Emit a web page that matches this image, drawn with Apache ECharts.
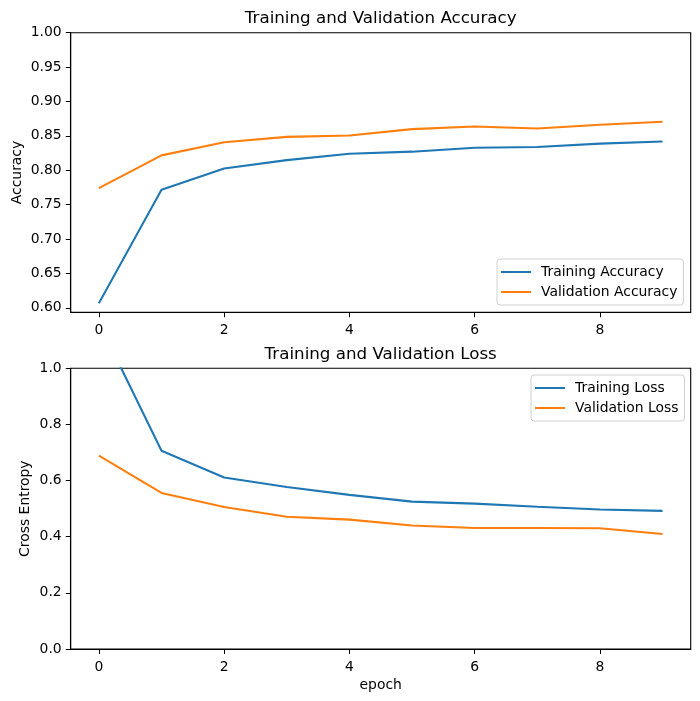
<!DOCTYPE html>
<html>
<head>
<meta charset="utf-8">
<script src="https://cdn.jsdelivr.net/npm/echarts@6/dist/echarts.min.js"></script>
<style>
html,body{margin:0;padding:0;background:#fff;}
#chart{width:700px;height:701px;}
</style>
</head>
<body>
<div id="chart"></div>
<script>
const epochs = [0, 1, 2, 3, 4, 5, 6, 7, 8, 9];
const trainAcc = [0.6066, 0.7716, 0.8025, 0.8147, 0.8240, 0.8270, 0.8328, 0.8338, 0.8387, 0.8417];
const valAcc = [0.7740, 0.8216, 0.8407, 0.8485, 0.8505, 0.8598, 0.8637, 0.8608, 0.8662, 0.8706];
const trainLoss = [1.163, 0.706, 0.611, 0.577, 0.549, 0.525, 0.518, 0.507, 0.497, 0.492];
const valLoss = [0.689, 0.556, 0.506, 0.471, 0.461, 0.440, 0.431, 0.431, 0.430, 0.410];
const xTicks = [0, 2, 4, 6, 8];
const accTicks = [0.60, 0.65, 0.70, 0.75, 0.80, 0.85, 0.90, 0.95, 1.00];

const FONT = 'DejaVu Sans';
const BLUE = '#1f77b4', ORANGE = '#ff7f0e';
const pairs = (ys) => epochs.map((e, i) => [e, ys[i]]);

const xAxisBase = (gridIndex, withName) => ({
  type: 'value', gridIndex, min: -0.45, max: 9.45,
  axisLine: { show: true, onZero: false, lineStyle: { color: '#000', width: 1.1 } },
  splitLine: { show: false },
  axisTick: { show: true, inside: false, length: 4.9, customValues: xTicks, lineStyle: { color: '#000', width: 1 } },
  axisLabel: { customValues: xTicks, color: '#000', fontFamily: FONT, fontSize: 13.9, margin: 11 },
  name: withName ? 'epoch' : '', nameLocation: 'middle', nameGap: 29,
  nameTextStyle: { color: '#000', fontFamily: FONT, fontSize: 13.9 }
});

const chart = echarts.init(document.getElementById('chart'), null, { renderer: 'canvas' });
chart.setOption({
  animation: false,
  backgroundColor: '#fff',
  textStyle: { fontFamily: FONT },
  title: [
    { text: 'Training and Validation Accuracy', left: 380.7, textAlign: 'center', top: 10, padding: 0,
      textStyle: { fontFamily: FONT, fontSize: 16.7, fontWeight: 'normal', color: '#000' } },
    { text: 'Training and Validation Loss', left: 380.7, textAlign: 'center', top: 346, padding: 0,
      textStyle: { fontFamily: FONT, fontSize: 16.7, fontWeight: 'normal', color: '#000' } }
  ],
  grid: [
    { left: 70.7, width: 620, top: 32.7, height: 279.6, show: true, borderColor: '#000', borderWidth: 1.1, backgroundColor: 'transparent', containLabel: false },
    { left: 70.7, width: 620, top: 368.3, height: 280.7, show: true, borderColor: '#000', borderWidth: 1.1, backgroundColor: 'transparent', containLabel: false }
  ],
  xAxis: [xAxisBase(0, false), xAxisBase(1, true)],
  yAxis: [
    { type: 'value', gridIndex: 0, min: 0.5934, max: 1.0,
      axisLine: { show: true, onZero: false, lineStyle: { color: '#000', width: 1.1 } }, splitLine: { show: false },
      axisTick: { show: true, length: 4.9, customValues: accTicks, lineStyle: { color: '#000', width: 1 } },
      axisLabel: { customValues: accTicks, color: '#000', fontFamily: FONT, fontSize: 13.9, margin: 9,
        formatter: (v) => v.toFixed(2) },
      name: 'Accuracy', nameLocation: 'middle', nameGap: 46, nameMoveOverlap: false,
      nameTextStyle: { color: '#000', fontFamily: FONT, fontSize: 13.9 } },
    { type: 'value', gridIndex: 1, min: 0, max: 1.0, interval: 0.2,
      axisLine: { show: true, onZero: false, lineStyle: { color: '#000', width: 1.1 } }, splitLine: { show: false },
      axisTick: { show: true, length: 4.9, lineStyle: { color: '#000', width: 1 } },
      axisLabel: { color: '#000', fontFamily: FONT, fontSize: 13.9, margin: 9,
        formatter: (v) => v.toFixed(1) },
      name: 'Cross Entropy', nameLocation: 'middle', nameGap: 38, nameMoveOverlap: false,
      nameTextStyle: { color: '#000', fontFamily: FONT, fontSize: 13.9 } }
  ],
  legend: [
    { data: ['Training Accuracy', 'Validation Accuracy'], orient: 'vertical', left: 497, top: 259,
      icon: 'rect', itemWidth: 30, itemHeight: 2, itemGap: 6, padding: [6, 6, 6, 4],
      borderColor: '#d0d0d0', borderWidth: 1, borderRadius: 3, backgroundColor: 'rgba(255,255,255,0.8)',
      textStyle: { fontFamily: FONT, fontSize: 13.9, color: '#000', padding: [0, 0, 0, 5] }, selectedMode: false },
    { data: ['Training Loss', 'Validation Loss'], orient: 'vertical', left: 531, top: 375,
      icon: 'rect', itemWidth: 30, itemHeight: 2, itemGap: 6, padding: [6, 6, 6, 4],
      borderColor: '#d0d0d0', borderWidth: 1, borderRadius: 3, backgroundColor: 'rgba(255,255,255,0.8)',
      textStyle: { fontFamily: FONT, fontSize: 13.9, color: '#000', padding: [0, 0, 0, 5] }, selectedMode: false }
  ],
  series: [
    { name: 'Training Accuracy', type: 'line', xAxisIndex: 0, yAxisIndex: 0, data: pairs(trainAcc),
      showSymbol: false, symbol: 'none', color: BLUE, lineStyle: { color: BLUE, width: 2.08 }, clip: true, z: 3 },
    { name: 'Validation Accuracy', type: 'line', xAxisIndex: 0, yAxisIndex: 0, data: pairs(valAcc),
      showSymbol: false, symbol: 'none', color: ORANGE, lineStyle: { color: ORANGE, width: 2.08 }, clip: true, z: 3 },
    { name: 'Training Loss', type: 'line', xAxisIndex: 1, yAxisIndex: 1, data: pairs(trainLoss),
      showSymbol: false, symbol: 'none', color: BLUE, lineStyle: { color: BLUE, width: 2.08 }, clip: true, z: 3 },
    { name: 'Validation Loss', type: 'line', xAxisIndex: 1, yAxisIndex: 1, data: pairs(valLoss),
      showSymbol: false, symbol: 'none', color: ORANGE, lineStyle: { color: ORANGE, width: 2.08 }, clip: true, z: 3 }
  ]
});
</script>
</body>
</html>
